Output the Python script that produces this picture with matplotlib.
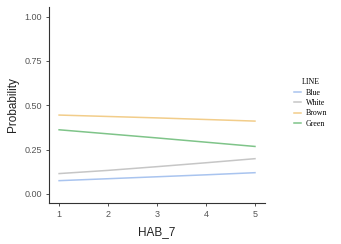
import numpy as np
import matplotlib.pyplot as plt

# predicted probabilities
hab7 = [1, 2, 3, 4, 5]
blue = [0.075, 0.086, 0.097, 0.108, 0.120]
white = [0.115, 0.133, 0.154, 0.176, 0.199]
brown = [0.445, 0.437, 0.429, 0.420, 0.411]
green = [0.362, 0.339, 0.316, 0.292, 0.268]
line_names = ['Blue', 'White', 'Brown', 'Green']
line_colors = ['#a9c4ef', '#c6c6c6', '#f2cd8a', '#7fc489']

fig = plt.figure(figsize=(3.41, 2.44), dpi=100)
ax = fig.add_axes([0.144, 0.168, 0.633, 0.803])

for vals, name, col in zip([blue, white, brown, green], line_names, line_colors):
    ax.plot(hab7, vals, color=col, lw=1.1, label=name)

ax.set_xlim(0.796, 5.204)
ax.set_ylim(-0.051, 1.054)
ax.set_xticks(hab7)
ax.set_yticks([0, 0.25, 0.5, 0.75, 1.0])
ax.set_yticklabels(['0.00', '0.25', '0.50', '0.75', '1.00'])

for s in ['top', 'right']:
    ax.spines[s].set_visible(False)
for s in ['left', 'bottom']:
    ax.spines[s].set_color('#333333')
    ax.spines[s].set_linewidth(0.8)

ax.tick_params(direction='out', length=2.5, width=0.6, color='#333333',
               labelsize=6.5, labelcolor='#555555', pad=2.5)
for t in ax.get_xticklabels() + ax.get_yticklabels():
    t.set_family('Liberation Sans')

ax.set_xlabel('HAB_7', fontsize=8.5, family='Liberation Sans', color='#222222', labelpad=5)
ax.set_ylabel('Probability', fontsize=8.5, family='Liberation Sans', color='#222222', labelpad=4)

leg = ax.legend(title='LINE', loc='center left', bbox_to_anchor=(1.1, 0.51),
                frameon=False, prop={'family': 'Liberation Serif', 'size': 5.7},
                handlelength=0.9, labelspacing=0.3, handletextpad=0.6)
leg.get_title().set_family('Liberation Serif')
leg.get_title().set_fontsize(5.7)

fig.savefig('out.png', dpi=100)
